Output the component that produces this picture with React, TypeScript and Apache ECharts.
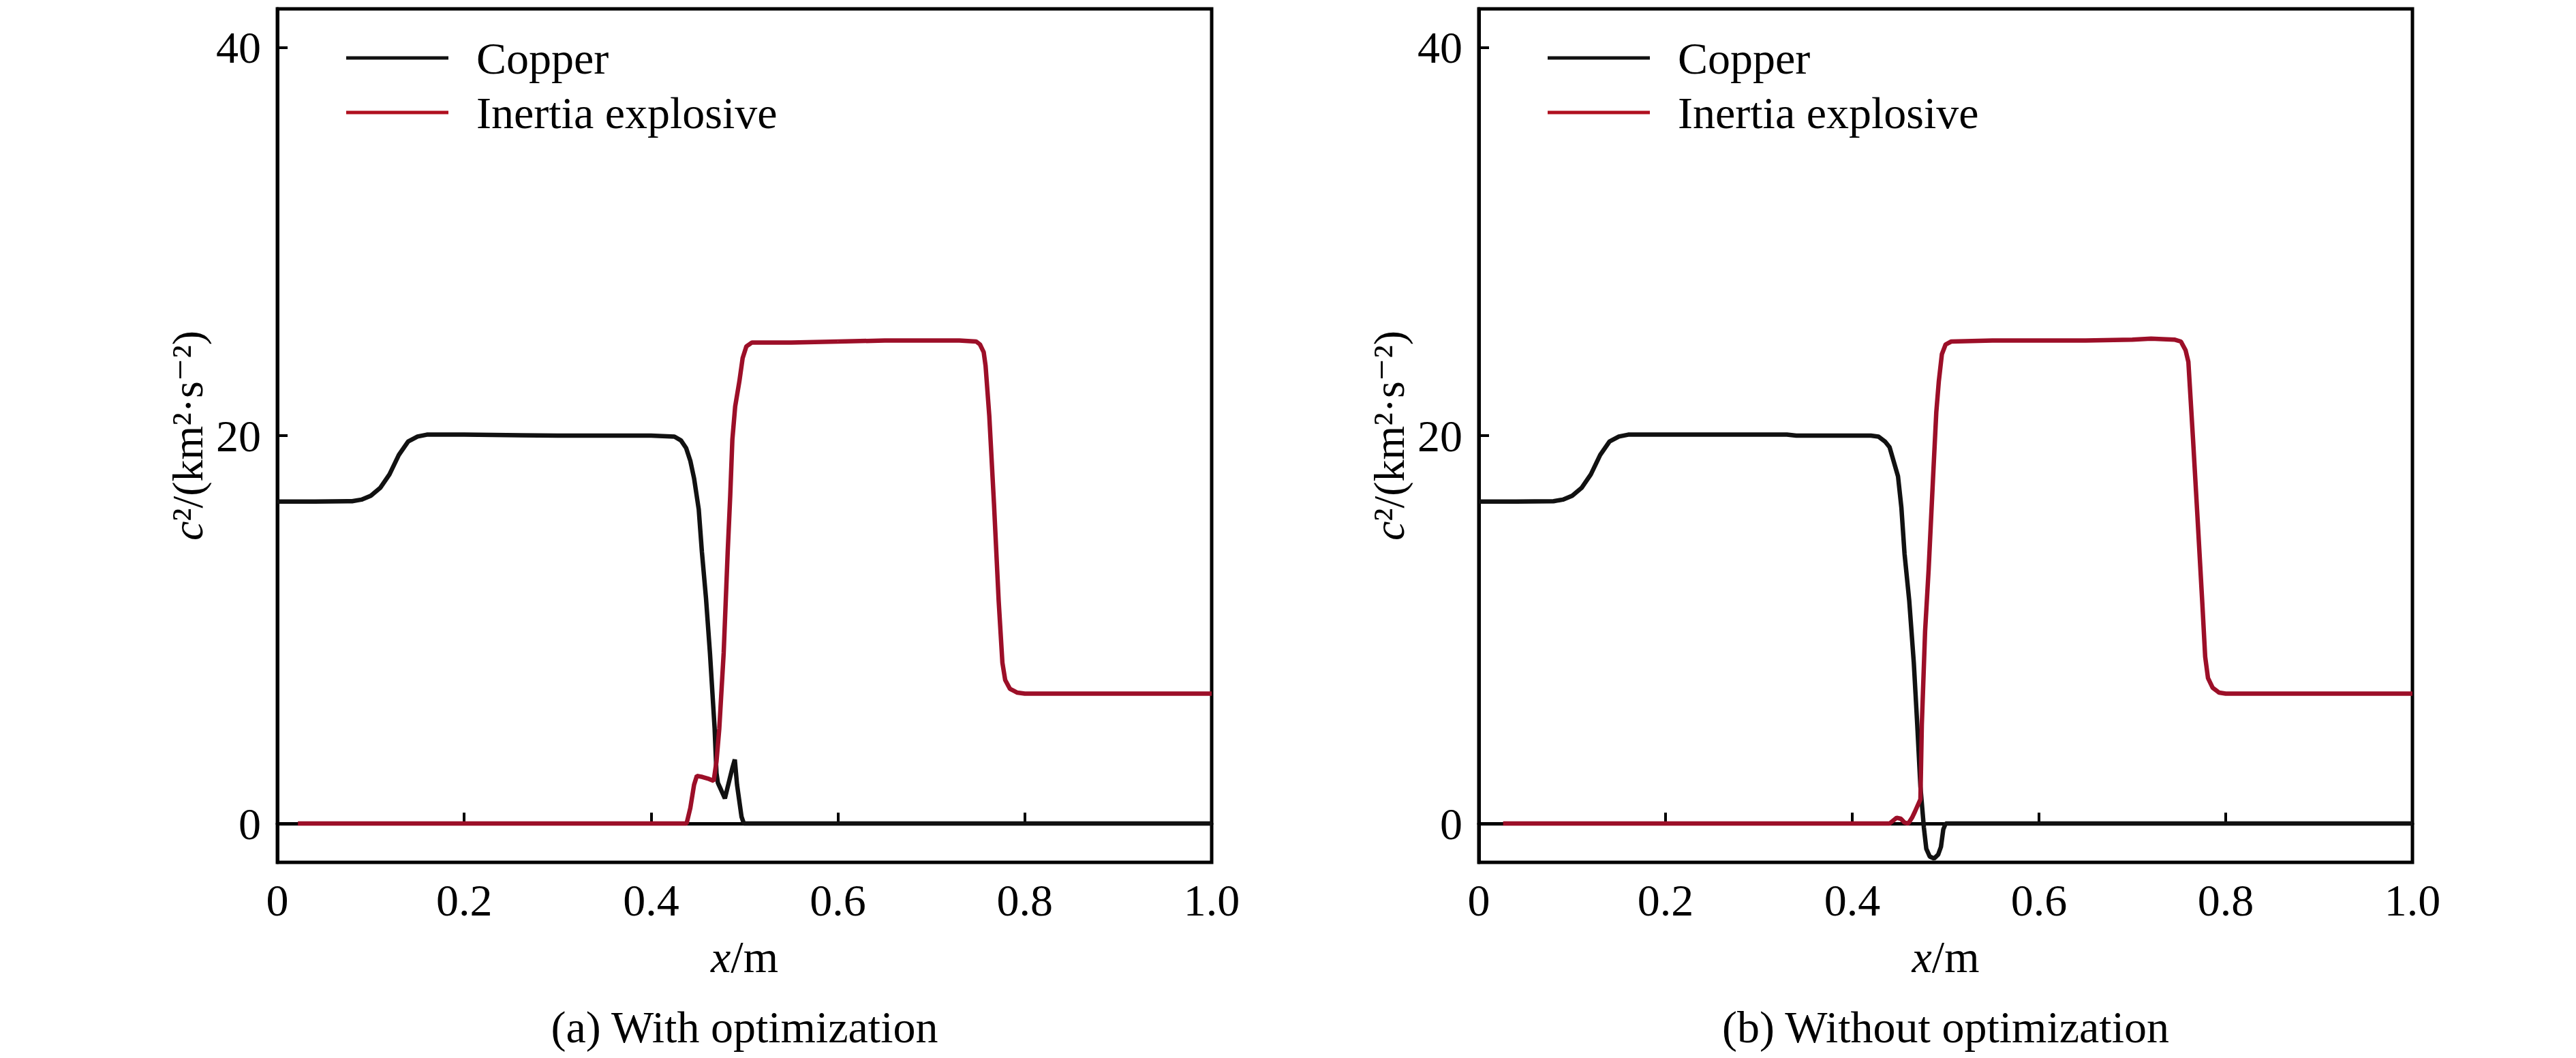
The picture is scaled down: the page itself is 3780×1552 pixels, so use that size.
import React, { useEffect, useRef } from "react";
import * as echarts from "echarts";

// ---------- data ----------
const xTickValues = [0, 0.2, 0.4, 0.6, 0.8, 1.0];
const xTickLabels = ["0", "0.2", "0.4", "0.6", "0.8", "1.0"];
const yTickValues = [0, 20, 40];
const yTickLabels = ["0", "20", "40"];

const seriesNames = ["Copper", "Inertia explosive"];
const captions = ["(a) With optimization", "(b) Without optimization"];

// (a) With optimization
const copperA: [number, number][] = [
  [0, 16.6], [0.04, 16.6], [0.08, 16.62], [0.09, 16.7], [0.1, 16.9], [0.11, 17.3],
  [0.12, 18.0], [0.13, 19.0], [0.14, 19.7], [0.15, 19.95], [0.16, 20.05], [0.2, 20.05],
  [0.3, 20.0], [0.4, 20.0], [0.425, 19.95], [0.432, 19.75], [0.4375, 19.36], [0.442, 18.7],
  [0.446, 17.8], [0.451, 16.2], [0.4544, 14.0], [0.4588, 11.6], [0.463, 8.8], [0.468, 4.9],
  [0.47, 2.6], [0.4715, 2.1], [0.479, 1.3], [0.4872, 2.9], [0.4896, 3.3], [0.492, 2.0],
  [0.4968, 0.35], [0.4993, 0], [0.7, 0], [1.0, 0],
];
const explosiveA: [number, number][] = [
  [0.022, 0], [0.2, 0], [0.438, 0], [0.442, 0.8], [0.446, 2.0], [0.449, 2.46], [0.455, 2.4],
  [0.462, 2.3], [0.467, 2.2], [0.47, 3.2], [0.473, 4.9], [0.4777, 8.8], [0.482, 14.0],
  [0.4847, 16.9], [0.487, 19.8], [0.49, 21.5], [0.4945, 22.8], [0.498, 24.0], [0.502, 24.6],
  [0.508, 24.8], [0.55, 24.8], [0.6, 24.85], [0.65, 24.9], [0.7, 24.9], [0.73, 24.9],
  [0.748, 24.85], [0.752, 24.7], [0.756, 24.3], [0.758, 23.6], [0.762, 21.0], [0.767, 16.5],
  [0.772, 11.5], [0.776, 8.3], [0.779, 7.4], [0.784, 6.95], [0.792, 6.75], [0.8, 6.7], [1.0, 6.7],
];

// (b) Without optimization
const copperB: [number, number][] = [
  [0, 16.6], [0.04, 16.6], [0.08, 16.62], [0.09, 16.7], [0.1, 16.9], [0.11, 17.3],
  [0.12, 18.0], [0.13, 19.0], [0.14, 19.7], [0.15, 19.95], [0.16, 20.05], [0.33, 20.05],
  [0.34, 20.0], [0.42, 20.0], [0.428, 19.95], [0.435, 19.7], [0.44, 19.4], [0.449, 17.9],
  [0.4526, 16.3], [0.456, 13.9], [0.461, 11.5], [0.4659, 8.3], [0.4696, 5.1], [0.473, 1.9],
  [0.4767, -0.2], [0.4793, -1.3], [0.483, -1.7], [0.4876, -1.8], [0.492, -1.6], [0.495, -1.2],
  [0.4975, -0.3], [0.5, 0], [0.7, 0], [1.0, 0],
];
const explosiveB: [number, number][] = [
  [0.026, 0], [0.2, 0], [0.44, 0], [0.4476, 0.3], [0.452, 0.25], [0.456, 0.05], [0.46, 0.0],
  [0.464, 0.3], [0.467, 0.6], [0.473, 1.25], [0.4745, 5.1], [0.478, 9.9], [0.4818, 13.1],
  [0.4866, 17.9], [0.49, 21.2], [0.4927, 22.8], [0.496, 24.2], [0.5, 24.7], [0.506, 24.85],
  [0.55, 24.9], [0.65, 24.9], [0.7, 24.95], [0.72, 25.0], [0.745, 24.95], [0.752, 24.85],
  [0.757, 24.4], [0.76, 23.8], [0.765, 19.8], [0.77, 15.6], [0.775, 11.3], [0.778, 8.6],
  [0.781, 7.5], [0.786, 7.0], [0.793, 6.75], [0.8, 6.7], [1.0, 6.7],
];

const panelData = [
  [copperA, explosiveA],
  [copperB, explosiveB],
];

// ---------- styling ----------
const FONT = '"Liberation Serif", "Times New Roman", "DejaVu Serif", serif';
const FS = 66;
const BLACK = "#111111";
const RED = "#9c0f28";
const LEGEND_COLORS = ["#111111", "#b0101f"];

const grids = [
  { left: 407, top: 13, width: 1371, height: 1252 },
  { left: 2170, top: 13, width: 1370, height: 1252 },
];

function labelFor(values: number[], labels: string[], v: number) {
  for (let i = 0; i < values.length; i++) {
    if (Math.abs(values[i] - v) < 1e-9) return labels[i];
  }
  return "";
}

export default function App() {
  const ref = useRef<HTMLDivElement>(null);

  useEffect(() => {
    if (!ref.current) return;
    const chart = echarts.init(ref.current, undefined, { renderer: "svg" });

    const xAxes = grids.map((_, i) => ({
      type: "value",
      gridIndex: i,
      min: 0,
      max: 1,
      axisLine: { show: true, lineStyle: { color: "#000", width: 5 } },
      axisTick: {
        show: true,
        inside: true,
        length: 16,
        customValues: xTickValues,
        lineStyle: { color: "#000", width: 4 },
      },
      axisLabel: {
        show: true,
        margin: 22,
        customValues: xTickValues,
        formatter: (v: number) => labelFor(xTickValues, xTickLabels, v),
        fontFamily: FONT,
        fontSize: FS,
        color: "#000",
      },
      splitLine: { show: false },
      name: "{i|x}/m",
      nameLocation: "middle",
      nameGap: 105,
      nameTextStyle: {
        fontFamily: FONT,
        fontSize: FS,
        color: "#000",
        rich: { i: { fontFamily: FONT, fontSize: FS, fontStyle: "italic", color: "#000" } },
      },
    }));

    const yAxes = grids.map((_, i) => ({
      type: "value",
      gridIndex: i,
      min: -2,
      max: 42,
      axisLine: { show: true, lineStyle: { color: "#000", width: 5 } },
      axisTick: {
        show: true,
        inside: true,
        length: 15,
        customValues: yTickValues,
        lineStyle: { color: "#000", width: 4 },
      },
      axisLabel: {
        show: true,
        margin: 24,
        customValues: yTickValues,
        formatter: (v: number) => labelFor(yTickValues, yTickLabels, v),
        fontFamily: FONT,
        fontSize: FS,
        color: "#000",
      },
      splitLine: { show: false },
      name: "{i|c}²/(km²·s⁻²)",
      nameLocation: "middle",
      nameRotate: 90,
      nameGap: 100,
      nameTextStyle: {
        fontFamily: FONT,
        fontSize: 64,
        color: "#000",
        rich: { i: { fontFamily: FONT, fontSize: 64, fontStyle: "italic", color: "#000" } },
      },
    }));

    const series: any[] = [];
    panelData.forEach((pair, i) => {
      pair.forEach((data, k) => {
        series.push({
          type: "line",
          name: seriesNames[k],
          xAxisIndex: i,
          yAxisIndex: i,
          data,
          symbol: "none",
          clip: true,
          z: 2 + k,
          lineStyle: { color: k === 0 ? BLACK : RED, width: 6.5 },
          itemStyle: { color: k === 0 ? BLACK : RED },
        });
      });
    });

    const legends = grids.map((g) => ({
      orient: "vertical",
      left: g.left + 96,
      top: 47,
      icon: "rect",
      itemWidth: 150,
      itemHeight: 5,
      itemGap: 14,
      data: seriesNames.map((n, k) => ({ name: n, itemStyle: { color: LEGEND_COLORS[k] } })),
      selectedMode: false,
      textStyle: {
        fontFamily: FONT,
        fontSize: FS,
        color: "#000",
        padding: [0, 0, 0, 36],
      },
    }));

    const graphic = grids.map((g, i) => ({
      type: "text",
      x: g.left + g.width / 2,
      y: 1506,
      style: {
        text: captions[i],
        fontFamily: FONT,
        fontSize: FS,
        fill: "#000",
        align: "center",
        verticalAlign: "middle",
      },
    }));

    chart.setOption({
      animation: false,
      backgroundColor: "#ffffff",
      textStyle: { fontFamily: FONT },
      grid: grids.map((g) => ({
        ...g,
        show: true,
        borderColor: "#000",
        borderWidth: 5,
        backgroundColor: "transparent",
        containLabel: false,
      })),
      xAxis: xAxes,
      yAxis: yAxes,
      legend: legends,
      series,
      graphic,
    });

    return () => chart.dispose();
  }, []);

  return (
    <div
      ref={ref}
      style={{ position: "fixed", left: 0, top: 0, width: 3780, height: 1552, background: "#fff" }}
    />
  );
}
